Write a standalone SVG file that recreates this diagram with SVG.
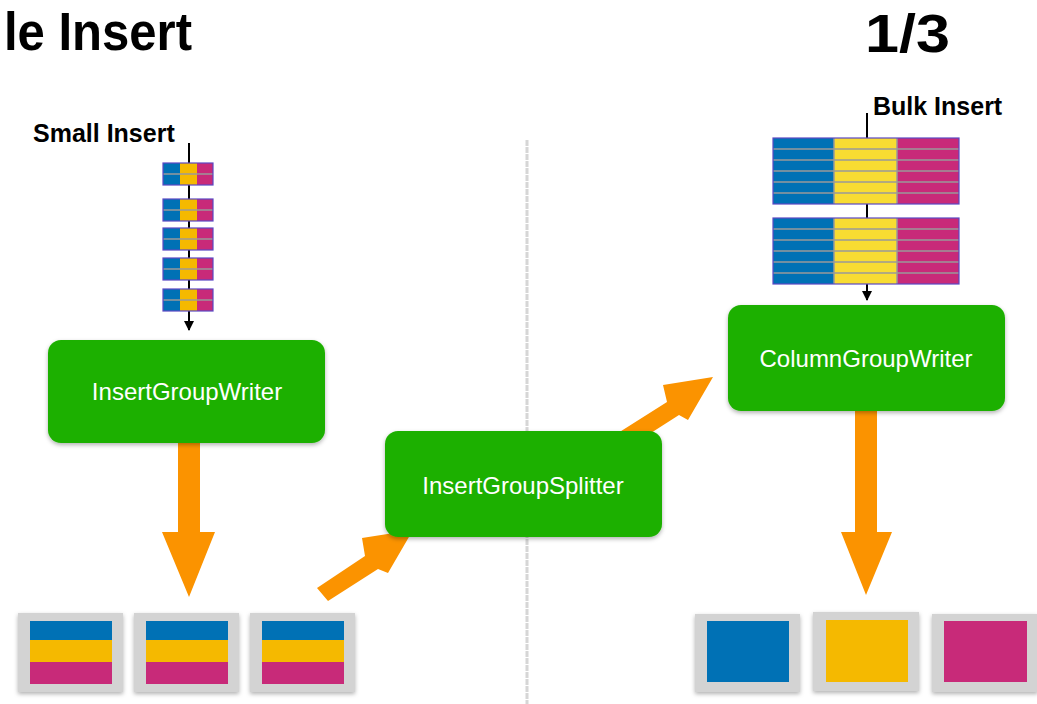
<svg xmlns="http://www.w3.org/2000/svg" width="1037" height="704" viewBox="0 0 1037 704">
<style>
.title{font-family:"Liberation Sans",Arial,sans-serif;font-weight:bold;font-size:54px;fill:#000}
.lbl{font-family:"Liberation Sans",Arial,sans-serif;font-weight:bold;font-size:25px;fill:#000}
.nodet{font-family:"Liberation Sans",Arial,sans-serif;font-size:24px;fill:#fff;text-anchor:middle}
.green{fill:#1eb000}
.blue{fill:#0071b5}
.yel{fill:#f5b900}
.yel2{fill:#f8dc32}
.pink{fill:#c82a79}
.frame{fill:#d3d3d3}
.row{stroke:#9a9a9a;stroke-width:1.5}
.bord{fill:none;stroke:#5b48c4;stroke-width:1.2}
.orange{fill:#fb9300}
.sep{stroke:#d6d6d6;stroke-width:3;stroke-dasharray:6 1}
</style>
<defs>
<filter id="sh" x="-10%" y="-10%" width="130%" height="140%">
<feDropShadow dx="0" dy="2" stdDeviation="2" flood-color="#000" flood-opacity="0.3"/>
</filter>
<marker id="ah" viewBox="0 0 10 10" refX="9" refY="5" markerWidth="10" markerHeight="10" markerUnits="userSpaceOnUse" orient="auto">
<path d="M0,0 L10,5 L0,10 z" fill="#000"/>
</marker>
<g id="sblk">
<rect x="0" y="0" width="17" height="22" class="blue"/>
<rect x="17" y="0" width="17" height="22" class="yel"/>
<rect x="34" y="0" width="16" height="22" class="pink"/>
<line x1="0" y1="11" x2="50" y2="11" class="row"/>
<rect x="0" y="0" width="50" height="22" class="bord"/>
</g>
<g id="bblk">
<rect x="0" y="0" width="61" height="66" class="blue"/>
<rect x="61" y="0" width="63" height="66" class="yel2"/>
<rect x="124" y="0" width="62" height="66" class="pink"/>
<line x1="0" y1="11" x2="186" y2="11" class="row"/>
<line x1="0" y1="22" x2="186" y2="22" class="row"/>
<line x1="0" y1="33" x2="186" y2="33" class="row"/>
<line x1="0" y1="44" x2="186" y2="44" class="row"/>
<line x1="0" y1="55" x2="186" y2="55" class="row"/>
<line x1="61" y1="0" x2="61" y2="66" class="row" stroke-width="1"/>
<line x1="124" y1="0" x2="124" y2="66" class="row" stroke-width="1"/>
<rect x="0" y="0" width="186" height="66" class="bord"/>
</g>
<g id="stripe">
<rect x="0" y="0" width="105" height="79" class="frame" filter="url(#sh)"/>
<rect x="12" y="8" width="82" height="19" class="blue"/>
<rect x="12" y="27" width="82" height="22" class="yel"/>
<rect x="12" y="49" width="82" height="22" class="pink"/>
</g>
</defs>
<rect width="1037" height="704" fill="#fff"/>
<text class="title" x="4" y="50" textLength="188" lengthAdjust="spacingAndGlyphs">le Insert</text>
<text class="title" x="865" y="52" textLength="85" lengthAdjust="spacingAndGlyphs">1/3</text>
<line x1="527" y1="140" x2="527" y2="704" class="sep"/>

<g id="small-insert">
<text class="lbl" x="33" y="142">Small Insert</text>
<line x1="189" y1="143" x2="189" y2="330" stroke="#000" stroke-width="2" marker-end="url(#ah)"/>
<use href="#sblk" x="163" y="163"/>
<use href="#sblk" x="163" y="199"/>
<use href="#sblk" x="163" y="228"/>
<use href="#sblk" x="163" y="258"/>
<use href="#sblk" x="163" y="289"/>
</g>

<g id="bulk-insert">
<text class="lbl" x="873" y="115">Bulk Insert</text>
<line x1="867" y1="113" x2="867" y2="300" stroke="#000" stroke-width="2" marker-end="url(#ah)"/>
<use href="#bblk" x="773" y="138"/>
<use href="#bblk" x="773" y="218"/>
</g>

<g id="connectors">
<polygon class="orange" points="178,438 200,438 200,532 215,532 189,597 162,532 178,532"/>
<polygon class="orange" points="855,405 877,405 877,532 892,532 866,595 841,532 855,532"/>
<polygon class="orange" points="317,588 365,556 362,538 413,530 388,573 378,569 328,601"/>
<polygon class="orange" points="618,433 667,402 663,385 713,377 688,420 679,415 629,447"/>
</g>

<g id="InsertGroupWriter">
<rect x="48" y="340" width="277" height="103" rx="13" class="green" filter="url(#sh)"/>
<text class="nodet" x="187" y="400">InsertGroupWriter</text>
</g>
<g id="InsertGroupSplitter">
<rect x="385" y="431" width="277" height="106" rx="13" class="green" filter="url(#sh)"/>
<text class="nodet" x="523" y="494">InsertGroupSplitter</text>
</g>
<g id="ColumnGroupWriter">
<rect x="728" y="305" width="277" height="106" rx="13" class="green" filter="url(#sh)"/>
<text class="nodet" x="866" y="367">ColumnGroupWriter</text>
</g>

<g id="row-groups-left">
<use href="#stripe" x="18" y="613"/>
<use href="#stripe" x="134" y="613"/>
<use href="#stripe" x="250" y="613"/>
</g>
<g id="column-groups-right">
<g id="col-blue"><rect x="695" y="614" width="105" height="78" class="frame" filter="url(#sh)"/><rect x="707" y="621" width="82" height="61" class="blue"/></g>
<g id="col-yellow"><rect x="813" y="612" width="106" height="79" class="frame" filter="url(#sh)"/><rect x="826" y="620" width="82" height="62" class="yel"/></g>
<g id="col-pink"><rect x="932" y="614" width="106" height="78" class="frame" filter="url(#sh)"/><rect x="944" y="621" width="83" height="61" class="pink"/></g>
</g>
</svg>
